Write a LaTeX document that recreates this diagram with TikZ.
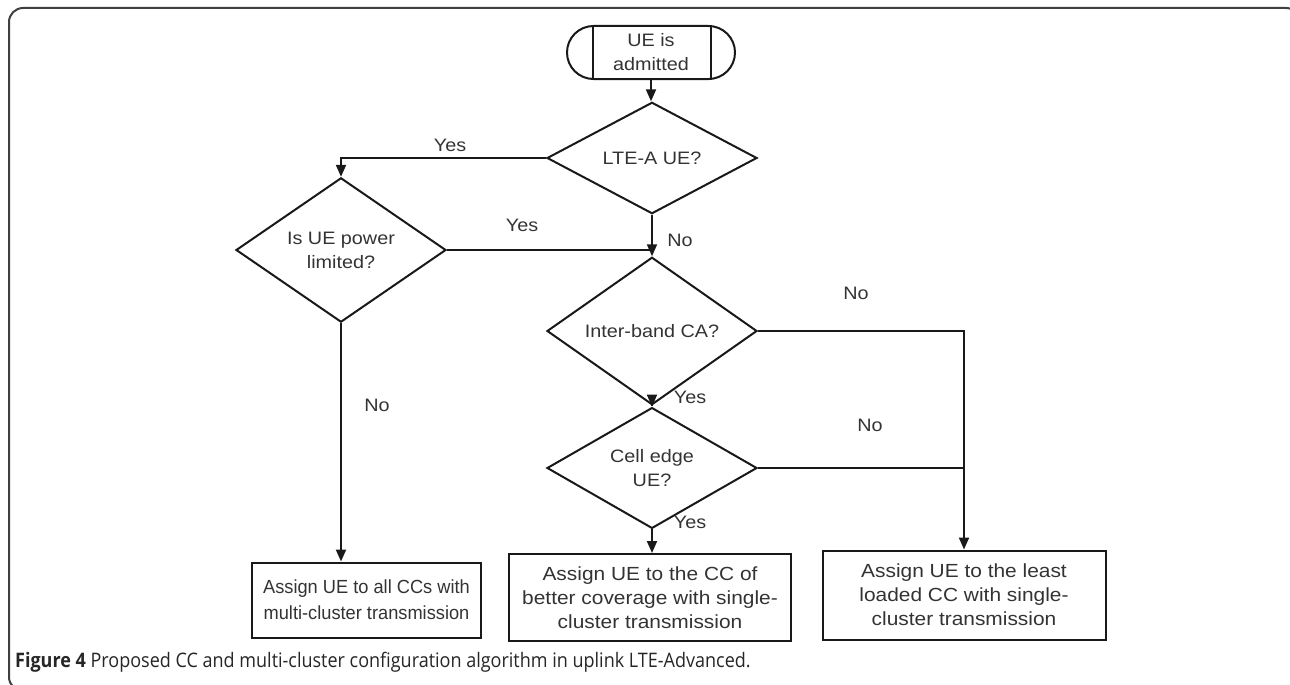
\documentclass[tikz,border=0pt]{standalone}
\usepackage{fontspec}
\newfontfamily\chartfont{Liberation Sans}[FakeStretch=1.1]
\newfontfamily\narrowfont{Liberation Sans}[FakeStretch=0.96]
\newfontfamily\capfont{Open Sans}[FakeStretch=0.9]
\usetikzlibrary{shapes.geometric,shapes.misc,arrows.meta}

\tikzset{
	flow/.style={line width=2pt, draw=black!90},
	arr/.style={flow, -{Triangle[length=12pt,width=10pt]}},
	txt/.style={font=\chartfont\fontsize{18}{24}\selectfont, text=black!80},
	decision/.style={diamond, draw=black!90, line width=2pt, inner sep=0pt, minimum width=210pt, minimum height=94pt, align=center, txt},
	action/.style={rectangle, draw=black!90, line width=2pt, inner sep=0pt, align=center, txt, font=\chartfont\fontsize{19}{24}\selectfont},
	terminal/.style={rounded rectangle, draw=black!90, line width=2pt, minimum width=168pt, minimum height=53pt, inner sep=0pt, align=center, txt},
	lbl/.style={txt, inner sep=0pt}
}

\begin{document}
\begin{tikzpicture}[x=1pt, y=-1pt]
			\clip (0,0) rectangle (1290,685);
			\useasboundingbox (0,0) rectangle (1290,685);
			\draw[line width=2pt, black!75, rounded corners=14pt] (60,691) -- (9,691) -- (9,8) -- (1300,8) -- (1300,60);

			\node[terminal] (start) at (651,52.5) {UE is\\admitted};
			\draw[line width=2pt, black!90] ([xshift=-58pt]start.north) -- ([xshift=-58pt]start.south);
			\draw[line width=2pt, black!90] ([xshift=60pt]start.north) -- ([xshift=60pt]start.south);

			\node[decision, minimum height=102pt] (lte) at (652,158) {LTE-A UE?};
			\node[decision] (power) at (341,250) {Is UE power\\limited?};
			\node[decision] (band) at (652,331) {Inter-band CA?};
			\node[decision] (edge) at (652,468) {Cell edge\\UE?};

			\node[action, minimum width=229pt, minimum height=75pt, font=\narrowfont\fontsize{19}{26}\selectfont] (allcc) at (366.5,600) {Assign UE to all CCs with\\multi-cluster transmission};
			\node[action, minimum width=282pt, minimum height=87pt] (better) at (650,597.5) {Assign UE to the CC of\\better coverage with single-\\cluster transmission};
			\node[action, minimum width=283pt, minimum height=89pt] (least) at (964,595) {Assign UE to the least\\loaded CC with single-\\cluster transmission};

			\draw[arr] (start.south) -- (start.south |- lte.north);
			\draw[arr] (lte.west) -| (power.north);
			\draw[arr] (lte.south) -- (band.north);
			\draw[flow] (power.east) -- (power.east -| lte.south);
			\draw[arr] (power.south) -- (power.south |- allcc.north);
			\draw[arr] (band.east) -| (least.north);
			\draw[arr] (band.south) -- (edge.north);
			\draw[flow] (edge.east) -- (edge.east -| least.north);
			\draw[arr] (edge.south) -- (edge.south |- better.north);

			\node[lbl] (y1) at (450,145) {Yes};
			\node[lbl] (y2) at (522,225) {Yes};
			\node[lbl] (n1) at (680,240) {No};
			\node[lbl] (n2) at (856,293) {No};
			\node[lbl] (y3) at (690,397) {Yes};
			\node[lbl] (n3) at (870,425) {No};
			\node[lbl] (y4) at (690,522) {Yes};
			\node[lbl] (n4) at (377,405) {No};

			\node[anchor=base west, inner sep=0pt, font=\capfont\fontsize{20}{22}\selectfont, text=black!85] (cap) at (15,667) {\textbf{Figure 4} Proposed CC and multi-cluster configuration algorithm in uplink LTE-Advanced.};
\end{tikzpicture}
\end{document}
